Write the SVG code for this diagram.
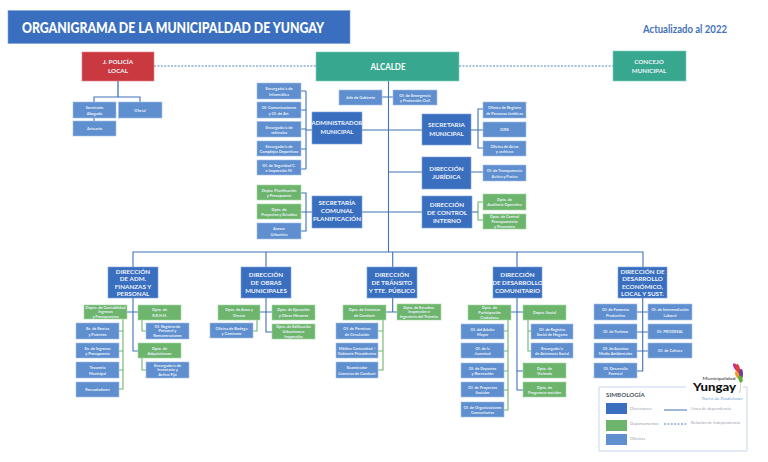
<svg xmlns="http://www.w3.org/2000/svg" width="768" height="462" viewBox="0 0 768 462">
<style>
text{font-family:"Lato","Open Sans","Liberation Sans",sans-serif;text-anchor:middle;fill:#fff}
.dir rect,.o{fill:#3A6FC0;stroke:#7FA2D6;stroke-width:.6}
.of rect{fill:#5F8FCF;stroke:#A4C0E6;stroke-width:.6}
.gr rect{fill:#6DB56D;stroke:#A6D6A6;stroke-width:.6}
.te rect{fill:#37A88F;stroke:#7FCBBB;stroke-width:.6}
.re rect{fill:#C9393F;stroke:#DE8488;stroke-width:.6}
.s{font-size:3.900px;font-weight:700;fill:#EAF1FA}
.m{font-size:6.300px;font-weight:700;fill:#EEF3FB}
.c{fill:none;stroke:#3F72B8;stroke-width:1.1}
.g{fill:none;stroke:#6DB56D;stroke-width:1.1}
.d{fill:none;stroke:#3F72B8;stroke-width:.9;stroke-dasharray:2 1.4}
.lg{font-size:4.200px;text-anchor:start;fill:#9AA3AE;font-weight:400}
</style>
<rect x="8" y="10.500" width="342" height="33" fill="#3A6FC0" stroke="#7FA2D6" stroke-width=".6"/>
<text x="22" y="32.500" style="text-anchor:start;font-size:14.500px;font-weight:900" fill="#F2F6FC" textLength="302" lengthAdjust="spacingAndGlyphs">ORGANIGRAMA DE LA MUNICIPALDAD DE YUNGAY</text>
<text x="643" y="32.500" style="text-anchor:start;font-size:10.500px;font-weight:700;fill:#4472B8" textLength="84" lengthAdjust="spacingAndGlyphs">Actualizado al 2022</text>
<g id="connectors">
<path class="d" d="M154 66H316M459 66H613"/>
<path d="M118 81V97" fill="none" stroke="#7FA2D6" stroke-width="2"/>
<path class="c" d="M94 102V97H140V102M94 118V121"/>
<path class="c" d="M388.500 81V252M133 267V252H643V267M266 252V267M392.700 252V267M517 252V267"/>
<path class="c" d="M382 97H393M362 130H389M362 212H389M389 130H422M389 172H422M389 212H422"/>
<path class="c" d="M301 91H306M301 110H306M301 129H306M301 149H306M301 169H306M306 91V169M306 130H312"/>
<path class="c" d="M301 193H306V231H301M301 212H312"/>
<path class="c" d="M483 109H478V148H483M478 130H471M483 130H478M471 172H483"/>
<path class="g" d="M483 202H478V220H483"/><path class="c" d="M472 212H478"/>
<path class="c" d="M133 298V351H138M127 312H138"/>
<path class="g" d="M123 319V389H119M119 331H123M119 351H123M119 370H123M142 320V331H146M142 358V370H146"/>
<path class="c" d="M266 298V332H272M260 312H272"/>
<path class="g" d="M257 320V331H253"/>
<path class="c" d="M392.700 298V312M386 312H397"/>
<path class="g" d="M383 320V370H378M378 331H383M378 351H383"/>
<path class="c" d="M517 298V390H523M511 312H523M517 371H523"/>
<path class="g" d="M508 320V410H504M504 331H508M504 351H508M504 371H508M504 390H508M528 320V351H531M528 331H531"/>
<path class="c" d="M642.700 298V371H637M637 312H648M637 332H648M637 351H648"/>
</g>
<g id="j-policia" class="re"><rect x="82" y="52" width="72" height="29"/><text class="m" x="118" y="63.500">J. POLICÍA</text><text class="m" x="118" y="72.500">LOCAL</text></g>
<g id="alcalde" class="te"><rect x="316" y="52" width="143" height="29"/><text x="388" y="69.500" style="font-size:8.500px;font-weight:700" textLength="35" lengthAdjust="spacingAndGlyphs">ALCALDE</text></g>
<g id="concejo" class="te"><rect x="613" y="51" width="73" height="30"/><text class="m" x="649" y="63.500">CONCEJO</text><text class="m" x="649" y="72.500">MUNICIPAL</text></g>
<g id="sec-abogado" class="of"><rect x="73" y="102" width="43" height="16"/><text class="s" x="94.500" y="109">Secretario</text><text class="s" x="94.500" y="114.500">Abogado</text></g>
<g id="oficial" class="of"><rect x="118.500" y="102" width="43.500" height="16"/><text class="s" x="140" y="111.500">Oficial</text></g>
<g id="actuario" class="of"><rect x="73" y="121" width="43" height="15"/><text class="s" x="94.500" y="130">Actuario</text></g>
<g id="enc-informatica" class="of"><rect x="257" y="83" width="44" height="16"/><text class="s" x="279" y="90">Encargado/a de</text><text class="s" x="279" y="95.500">Informática</text></g>
<g id="of-comunicaciones" class="of"><rect x="257" y="102" width="44" height="16"/><text class="s" x="279" y="109">Of. Comunicaciones</text><text class="s" x="279" y="114.500">y Of. de Art.</text></g>
<g id="enc-vehiculos" class="of"><rect x="257" y="121.500" width="44" height="15.500"/><text class="s" x="279" y="128.500">Encargado/a de</text><text class="s" x="279" y="134">vehículos</text></g>
<g id="enc-complejos" class="of"><rect x="257" y="141" width="44" height="15"/><text class="s" x="279" y="147.500">Encargado/a de</text><text class="s" x="279" y="153">Complejos Deportivos</text></g>
<g id="of-seguridad" class="of"><rect x="257" y="160" width="44" height="15"/><text class="s" x="279" y="166.500">Of. de Seguridad C.</text><text class="s" x="279" y="172">e Inspección M.</text></g>
<g id="dpto-planificacion" class="gr"><rect x="257" y="185" width="44" height="15"/><text class="s" x="279" y="191.500">Depto. Planificación</text><text class="s" x="279" y="197">y Presupuesto</text></g>
<g id="dpto-proyectos" class="gr"><rect x="257" y="204" width="44" height="15"/><text class="s" x="279" y="210.500">Dpto. de</text><text class="s" x="279" y="216">Proyectos y Estudios</text></g>
<g id="asesor" class="of"><rect x="257" y="223" width="44" height="16"/><text class="s" x="279" y="230">Asesor</text><text class="s" x="279" y="235.500">Urbanista</text></g>
<g id="administrador" class="dir"><rect x="312" y="112" width="50" height="32"/><text class="m" x="337" y="125" style="font-size:6px">ADMINISTRADOR</text><text class="m" x="337" y="133.500" style="font-size:6px">MUNICIPAL</text></g>
<g id="sec-comunal" class="dir"><rect x="312" y="196" width="50" height="32"/><text class="m" x="337" y="205">SECRETARÍA</text><text class="m" x="337" y="213">COMUNAL</text><text class="m" x="337" y="221">PLANIFICACIÓN</text></g>
<g id="jefe-gabinete" class="of"><rect x="339" y="90" width="43" height="15"/><text class="s" x="360.500" y="99">Jefe de Gabinete</text></g>
<g id="of-emergencia" class="of"><rect x="393" y="90" width="44" height="15"/><text class="s" x="415" y="96.500">Of. de Emergencia</text><text class="s" x="415" y="102">y Protección Civil</text></g>
<g id="sec-municipal" class="dir"><rect x="422" y="114" width="49" height="31"/><text class="m" x="446.500" y="127">SECRETARIA</text><text class="m" x="446.500" y="136">MUNICIPAL</text></g>
<g id="dir-juridica" class="dir"><rect x="422" y="157" width="49" height="32"/><text class="m" x="446.500" y="170.500">DIRECCIÓN</text><text class="m" x="446.500" y="179">JURÍDICA</text></g>
<g id="dir-control" class="dir"><rect x="422" y="196" width="50" height="32"/><text class="m" x="447" y="206.500">DIRECCIÓN</text><text class="m" x="447" y="214.500">DE CONTROL</text><text class="m" x="447" y="223">INTERNO</text></g>
<g id="of-registro-pj" class="of"><rect x="483" y="102" width="43" height="16"/><text class="s" x="504.500" y="109">Oficina de Registro</text><text class="s" x="504.500" y="114.500">de Personas Jurídicas</text></g>
<g id="oirs" class="of"><rect x="483" y="122" width="43" height="15"/><text class="s" x="504.500" y="131">OIRS</text></g>
<g id="of-actas" class="of"><rect x="483" y="141" width="43" height="15"/><text class="s" x="504.500" y="147.500">Oficina de Actas</text><text class="s" x="504.500" y="153">y archivos</text></g>
<g id="of-transparencia" class="of"><rect x="483" y="165" width="43" height="16"/><text class="s" x="504.500" y="172">Of. de Transparencia</text><text class="s" x="504.500" y="177.500">Activa y Pasiva</text></g>
<g id="dpto-auditoria" class="gr"><rect x="483" y="194" width="43" height="16"/><text class="s" x="504.500" y="200.500">Dpto. de</text><text class="s" x="504.500" y="206">Auditoría Operativa</text></g>
<g id="dpto-control" class="gr"><rect x="483" y="214" width="43" height="15"/><text class="s" x="504.500" y="218.300">Dpto. de Control</text><text class="s" x="504.500" y="222.900">Presupuestario</text><text class="s" x="504.500" y="227.500">y Financiero</text></g>
<g id="dir-adm" class="dir"><rect x="108" y="267" width="50" height="31"/><text class="m" x="133" y="273.500">DIRECCIÓN</text><text class="m" x="133" y="281">DE ADM.</text><text class="m" x="133" y="288.500">FINANZAS Y</text><text class="m" x="133" y="296">PERSONAL</text></g>
<g id="dir-obras" class="dir"><rect x="241" y="267" width="50" height="31"/><text class="m" x="266" y="277">DIRECCIÓN</text><text class="m" x="266" y="285">DE OBRAS</text><text class="m" x="266" y="293">MUNICIPALES</text></g>
<g id="dir-transito" class="dir"><rect x="367" y="267" width="50" height="31"/><text class="m" x="392" y="277">DIRECCIÓN</text><text class="m" x="392" y="285">DE TRÁNSITO</text><text class="m" x="392" y="293">Y TTE. PÚBLICO</text></g>
<g id="dir-desarrollo" class="dir"><rect x="493" y="267" width="49" height="31"/><text class="m" x="517.500" y="277">DIRECCIÓN</text><text class="m" x="517.500" y="285">DE DESARROLLO</text><text class="m" x="517.500" y="293">COMUNITARIO</text></g>
<g id="dir-economico" class="dir"><rect x="618" y="267" width="49" height="31"/><text class="m" x="642.500" y="273.500">DIRECCIÓN DE</text><text class="m" x="642.500" y="281">DESARROLLO</text><text class="m" x="642.500" y="288.500">ECONÓMICO,</text><text class="m" x="642.500" y="296">LOCAL Y SUST.</text></g>
<g id="dpto-contabilidad" class="gr"><rect x="84" y="305" width="43" height="14"/><text class="s" x="105.500" y="309">Depto. de Contabilidad</text><text class="s" x="105.500" y="313.300">Ingresos</text><text class="s" x="105.500" y="317.600">y Presupuestos</text></g>
<g id="dpto-rrhh" class="gr"><rect x="138" y="305" width="43" height="15"/><text class="s" x="159.500" y="311">Dpto. de</text><text class="s" x="159.500" y="316.500">R.R.H.H.</text></g>
<g id="en-rentas" class="of"><rect x="76" y="323" width="43" height="16"/><text class="s" x="97.500" y="330">En. de Rentas</text><text class="s" x="97.500" y="335.500">y Patentes</text></g>
<g id="en-ingresos" class="of"><rect x="76" y="343" width="43" height="15"/><text class="s" x="97.500" y="349.500">En. de Ingresos</text><text class="s" x="97.500" y="355">y Presupuesto</text></g>
<g id="tesoreria" class="of"><rect x="76" y="362" width="43" height="16"/><text class="s" x="97.500" y="369">Tesorería</text><text class="s" x="97.500" y="374.500">Municipal</text></g>
<g id="recaudadores" class="of"><rect x="76" y="382" width="43" height="15"/><text class="s" x="97.500" y="391">Recaudadores</text></g>
<g id="of-registro" class="of"><rect x="146" y="323" width="43" height="16"/><text class="s" x="167.500" y="327.700">Of. Registro de</text><text class="s" x="167.500" y="332.300">Personal y</text><text class="s" x="167.500" y="336.900">Remuneraciones</text></g>
<g id="dpto-adquisiciones" class="gr"><rect x="138" y="343" width="43" height="15"/><text class="s" x="159.500" y="349.500">Dpto. de</text><text class="s" x="159.500" y="355">Adquisiciones</text></g>
<g id="enc-inventario" class="of"><rect x="146" y="362" width="43" height="16"/><text class="s" x="167.500" y="366.700">Encargado/a de</text><text class="s" x="167.500" y="371.300">Inventario y</text><text class="s" x="167.500" y="375.900">Activo Fijo</text></g>
<g id="dpto-aseo" class="gr"><rect x="218" y="305" width="42" height="15"/><text class="s" x="239" y="311">Dpto. de Aseo y</text><text class="s" x="239" y="316.500">Ornato</text></g>
<g id="of-bodega" class="of"><rect x="210" y="323" width="43" height="15"/><text class="s" x="231.500" y="329.500">Oficina de Bodega</text><text class="s" x="231.500" y="335">y Camiones</text></g>
<g id="dpto-ejecucion" class="gr"><rect x="272" y="305" width="43" height="15"/><text class="s" x="293.500" y="311">Dpto. de Ejecución</text><text class="s" x="293.500" y="316.500">y Obras Menores</text></g>
<g id="dpto-edificacion" class="gr"><rect x="272" y="324" width="43" height="15"/><text class="s" x="293.500" y="328.300">Dpto. de Edificación</text><text class="s" x="293.500" y="332.900">Urbanismo e</text><text class="s" x="293.500" y="337.500">Inspección</text></g>
<g id="dpto-licencias" class="gr"><rect x="343" y="305" width="43" height="15"/><text class="s" x="364.500" y="311">Dpto. de Licencias</text><text class="s" x="364.500" y="316.500">de Conducir</text></g>
<g id="dpto-estudios" class="gr"><rect x="397" y="304" width="44" height="16"/><text class="s" x="419" y="308.500">Dpto. de Estudios,</text><text class="s" x="419" y="313.100">Inspección e</text><text class="s" x="419" y="317.700">Ingeniería del Tránsito</text></g>
<g id="of-permisos" class="of"><rect x="336" y="323" width="42" height="16"/><text class="s" x="357" y="330">Of. de Permisos</text><text class="s" x="357" y="335.500">de Circulación</text></g>
<g id="medico" class="of"><rect x="336" y="343" width="42" height="15"/><text class="s" x="357" y="349.500">Médico Comunidad /</text><text class="s" x="357" y="355">Gabinete Psicotécnico</text></g>
<g id="examinador" class="of"><rect x="336" y="362" width="42" height="16"/><text class="s" x="357" y="369">Examinador</text><text class="s" x="357" y="374.500">Licencias de Conducir</text></g>
<g id="dpto-participacion" class="gr"><rect x="468" y="305" width="43" height="15"/><text class="s" x="489.500" y="309.300">Dpto. de</text><text class="s" x="489.500" y="313.900">Participación</text><text class="s" x="489.500" y="318.500">Ciudadana</text></g>
<g id="depto-social" class="gr"><rect x="523" y="305" width="43" height="15"/><text class="s" x="544.500" y="314">Depto. Social</text></g>
<g id="of-adulto" class="of"><rect x="461" y="324" width="43" height="15"/><text class="s" x="482.500" y="330.500">Of. del Adulto</text><text class="s" x="482.500" y="336">Mayor</text></g>
<g id="of-juventud" class="of"><rect x="461" y="343" width="43" height="15"/><text class="s" x="482.500" y="349.500">Of. de la</text><text class="s" x="482.500" y="355">Juventud</text></g>
<g id="of-deportes" class="of"><rect x="461" y="363" width="43" height="15"/><text class="s" x="482.500" y="369.500">Of. de Deportes</text><text class="s" x="482.500" y="375">y Recreación</text></g>
<g id="of-proyectos" class="of"><rect x="461" y="382" width="43" height="15"/><text class="s" x="482.500" y="388.500">Of. de Proyectos</text><text class="s" x="482.500" y="394">Sociales</text></g>
<g id="of-organizaciones" class="of"><rect x="461" y="402" width="43" height="15"/><text class="s" x="482.500" y="408.500">Of. de Organizaciones</text><text class="s" x="482.500" y="414">Comunitarias</text></g>
<g id="of-rsh" class="of"><rect x="531" y="324" width="42" height="15"/><text class="s" x="552" y="330.500">Of. de Registro</text><text class="s" x="552" y="336">Social de Hogares</text></g>
<g id="enc-asistencia" class="of"><rect x="531" y="343" width="42" height="15"/><text class="s" x="552" y="349.500">Encargado/a</text><text class="s" x="552" y="355">de Asistencia Social</text></g>
<g id="dpto-vivienda" class="gr"><rect x="523" y="363" width="43" height="15"/><text class="s" x="544.500" y="369.500">Dpto. de</text><text class="s" x="544.500" y="375">Vivienda</text></g>
<g id="dpto-programas" class="gr"><rect x="523" y="382" width="43" height="15"/><text class="s" x="544.500" y="388.500">Dpto. de</text><text class="s" x="544.500" y="394">Programas sociales</text></g>
<g id="of-fomento" class="of"><rect x="594" y="304" width="43" height="16"/><text class="s" x="615.500" y="311">Of. de Fomento</text><text class="s" x="615.500" y="316.500">Productivo</text></g>
<g id="of-turismo" class="of"><rect x="594" y="324" width="43" height="15"/><text class="s" x="615.500" y="333">Of. de Turismo</text></g>
<g id="of-asuntos" class="of"><rect x="594" y="343" width="43" height="15"/><text class="s" x="615.500" y="349.500">Of. de Asuntos</text><text class="s" x="615.500" y="355">Medio Ambientales</text></g>
<g id="of-forestal" class="of"><rect x="594" y="363" width="43" height="15"/><text class="s" x="615.500" y="369.500">Of. Desarrollo</text><text class="s" x="615.500" y="375">Forestal</text></g>
<g id="of-intermediacion" class="of"><rect x="648" y="304" width="44" height="16"/><text class="s" x="670" y="311">Of. de Intermediación</text><text class="s" x="670" y="316.500">Laboral</text></g>
<g id="of-prodesal" class="of"><rect x="648" y="324" width="44" height="15"/><text class="s" x="670" y="333">Of. PRODESAL</text></g>
<g id="of-cultura" class="of"><rect x="648" y="343" width="44" height="15"/><text class="s" x="670" y="352">Of. de Cultura</text></g>
<g id="leyenda">
<path d="M686 387H599V451H747V387H743" fill="none" stroke="#B9CDEA" stroke-width=".8"/>
<text x="606" y="396.500" style="text-anchor:start;font-size:6.200px;font-weight:700;fill:#4A5563">SIMBOLOGÍA</text>
<rect x="606" y="403" width="21" height="11" fill="#3A6FC0"/><rect x="606" y="420" width="21" height="11" fill="#6DB56D"/><rect x="606" y="434" width="21" height="11" fill="#5F8FCF"/>
<text class="lg" x="630" y="410">Direcciones</text><text class="lg" x="630" y="425">Departamentos</text><text class="lg" x="630" y="440">Oficinas</text>
<path d="M664 410H687" fill="none" stroke="#3F72B8" stroke-width="1"/><path class="d" d="M664 424H687"/>
<text class="lg" x="691" y="410">Línea de dependencia</text><text class="lg" x="691" y="424">Relación de Independencia</text>
</g>
<g id="logo">
<ellipse cx="735.500" cy="367" rx="1.800" ry="4" fill="#C2308C" transform="rotate(-25 735.500 367)"/><ellipse cx="738" cy="369" rx="2" ry="5" fill="#E23B3B" transform="rotate(-15 738 369)"/><ellipse cx="737.500" cy="375" rx="2" ry="4" fill="#F0A020" transform="rotate(-25 737.500 375)"/><ellipse cx="741" cy="374" rx="2" ry="5" fill="#6A3FA0"/><ellipse cx="740.500" cy="379" rx="2" ry="3.500" fill="#5FAE3C" transform="rotate(-15 740.500 379)"/>
<path d="M740.500 382Q741.500 387 739.500 393" fill="none" stroke="#C9B99A" stroke-width=".7"/>
<text x="719" y="380" style="font-size:3.800px;fill:#222;font-weight:400" textLength="33" lengthAdjust="spacingAndGlyphs">Municipalidad</text>
<text x="693" y="391" style="text-anchor:start;font-size:11.500px;font-weight:900;fill:#111" textLength="43" lengthAdjust="spacingAndGlyphs">Yungay</text>
<text x="722" y="399.500" style="font-family:'Liberation Serif',serif;font-style:italic;font-size:4.800px;fill:#5F9AD0" textLength="41" lengthAdjust="spacingAndGlyphs">Tierra de Tradiciones</text>
</g>
</svg>
